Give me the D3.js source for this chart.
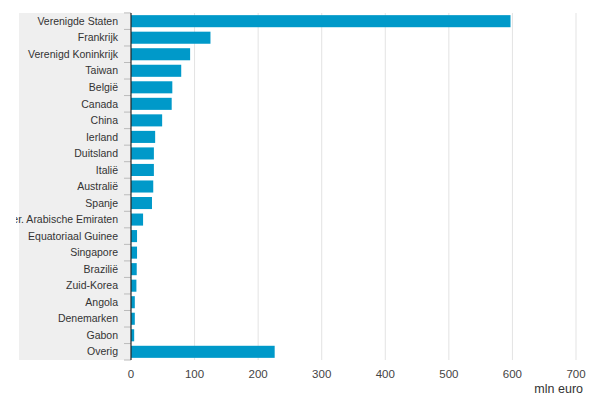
<!DOCTYPE html>
<html>
<head>
<meta charset="utf-8">
<script src="https://cdn.jsdelivr.net/npm/d3@7"></script>
<style>
  body { margin: 0; background: #fff; }
  svg { font-family: "Liberation Sans", Arial, sans-serif; }
</style>
</head>
<body>
<script>
const width = 600;
const height = 398;

const countries = ["Verenigde Staten", "Frankrijk", "Verenigd Koninkrijk", "Taiwan", "België",
    "Canada", "China", "Ierland", "Duitsland", "Italië", "Australië", "Spanje",
    "Ver. Arabische Emiraten", "Equatoriaal Guinee", "Singapore", "Brazilië", "Zuid-Korea",
    "Angola", "Denemarken", "Gabon", "Overig"];
const values = [597, 125, 93, 79, 65, 64, 49, 38, 36, 36, 35, 33, 19, 9.5, 9.5, 9, 8.5, 6, 6, 5, 226];
const xTicks = [0, 100, 200, 300, 400, 500, 600, 700];
const unit = "mln euro";

const margin = {top: 13, right: 24, bottom: 38, left: 131};
const panelLeft = 19;

const svg = d3.select('body').append('svg')
    .attr("width", width)
    .attr("height", height);

svg.append("defs").append("clipPath")
    .attr("id", "labelclip")
    .append("rect")
    .attr("x", 16)
    .attr("y", 0)
    .attr("width", margin.left - 16)
    .attr("height", height);

const x = d3.scaleLinear()
    .domain([0, 700])
    .range([margin.left, width - margin.right]);

const y = d3.scaleBand()
    .domain(countries)
    .range([margin.top, height - margin.bottom])
    .paddingInner(0.27)
    .paddingOuter(0.13);

// grey label panel
svg.append("rect")
    .attr("x", panelLeft)
    .attr("y", margin.top)
    .attr("width", margin.left - panelLeft)
    .attr("height", height - margin.bottom - margin.top)
    .attr("fill", "#efefef");

// gridlines
svg.append("g")
    .selectAll("line")
    .data(xTicks.slice(1))
    .enter()
    .append("line")
    .attr("x1", d => x(d))
    .attr("x2", d => x(d))
    .attr("y1", margin.top)
    .attr("y2", height - margin.bottom)
    .style("stroke", "#e3e3e3")
    .style("stroke-width", 1);

// tick labels
svg.append("g")
    .selectAll("text")
    .data(xTicks)
    .enter()
    .append("text")
    .attr("x", d => x(d))
    .attr("y", 378)
    .attr("text-anchor", "middle")
    .attr("font-size", 11.5)
    .attr("fill", "#444")
    .text(d => d);

svg.append("text")
    .attr("x", 583)
    .attr("y", 393)
    .attr("text-anchor", "end")
    .attr("font-size", 12.5)
    .attr("fill", "#333")
    .text(unit);

// bars
svg.append("g")
    .selectAll("rect")
    .data(countries)
    .enter()
    .append("rect")
    .attr("x", x(0))
    .attr("y", d => y(d))
    .attr("width", (d, i) => x(values[i]) - x(0))
    .attr("height", y.bandwidth())
    .attr("fill", "#0099c9");

// row separator ticks
const step = y.step();
const bounds = countries.map(d => y(d) - y.paddingInner() * step / 2);
bounds.push(height - margin.bottom);
svg.append("g")
    .selectAll("line")
    .data(bounds)
    .enter()
    .append("line")
    .attr("x1", margin.left - 7)
    .attr("x2", margin.left)
    .attr("y1", d => d)
    .attr("y2", d => d)
    .style("stroke", "#bbb")
    .style("stroke-width", 1);

// category labels
svg.append("g")
    .attr("clip-path", "url(#labelclip)")
    .selectAll("text")
    .data(countries)
    .enter()
    .append("text")
    .attr("x", 118)
    .attr("y", d => y(d) + y.bandwidth() / 2)
    .attr("dy", "0.35em")
    .attr("text-anchor", "end")
    .attr("font-size", 10.5)
    .attr("fill", "#333")
    .text(d => d);

// axis line
svg.append("line")
    .attr("x1", margin.left)
    .attr("x2", margin.left)
    .attr("y1", margin.top)
    .attr("y2", height - margin.bottom)
    .style("stroke", "#222")
    .style("stroke-width", 1.2);
</script>
</body>
</html>
